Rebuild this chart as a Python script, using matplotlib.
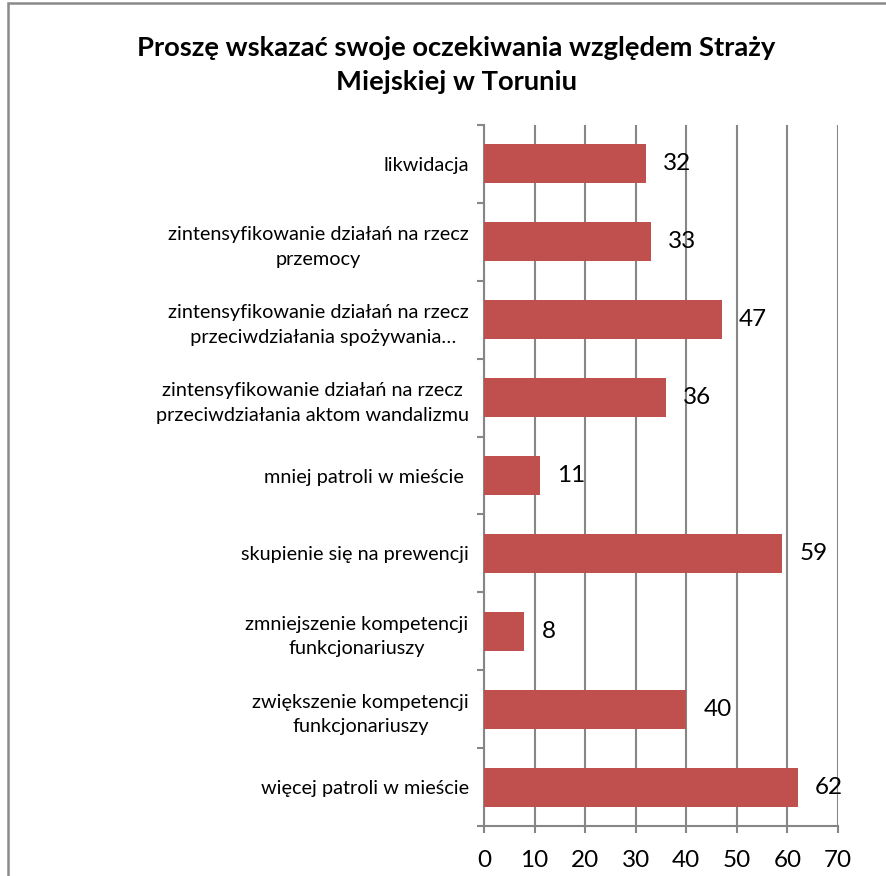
import matplotlib
matplotlib.use("Agg")
import matplotlib.pyplot as plt
from matplotlib.patches import Rectangle
import numpy as np

categories = [
    "likwidacja",
    "zintensyfikowanie działań na rzecz\nprzemocy",
    "zintensyfikowanie działań na rzecz\n  przeciwdziałania spożywania…",
    "zintensyfikowanie działań na rzecz\nprzeciwdziałania aktom wandalizmu",
    "mniej patroli w mieście ",
    "skupienie się na prewencji",
    "zmniejszenie kompetencji\nfunkcjonariuszy",
    "zwiększenie kompetencji\nfunkcjonariuszy",
    "więcej patroli w mieście",
]
values = [32, 33, 47, 36, 11, 59, 8, 40, 62]
xticks = [0, 10, 20, 30, 40, 50, 60, 70]
title = "Proszę wskazać swoje oczekiwania względem Straży\nMiejskiej w Toruniu"

plt.rcParams['font.family'] = ['Lato', 'DejaVu Sans']

fig = plt.figure(figsize=(8.86, 8.76), dpi=100)
fig.patches.append(Rectangle((8/886, -0.1), 1.2, 1.1 - 3/876, transform=fig.transFigure,
                             fill=False, edgecolor='#8a8a8a', linewidth=1.8))
ax = fig.add_axes([484/886, 1 - 826/876, 354/886, 701/876])

n = len(categories)
y = np.arange(n)
ax.barh(y, values, height=0.5, color='#C0504D', zorder=3)
ax.set_ylim(n - 0.5, -0.5)
ax.set_xlim(0, 70)
ax.set_xticks(xticks)
ax.set_xticklabels([str(t) for t in xticks], fontsize=17.5)
ax.set_yticks(y)
ax.set_yticklabels(categories, fontsize=14.3, multialignment='center', linespacing=1.55)
ax.set_yticks(np.arange(n + 1) - 0.5, minor=True)
ax.tick_params(axis='y', which='major', length=0, pad=11)
ax.tick_params(axis='y', which='minor', length=5, width=1.5, color='#868686', direction='out')
ax.tick_params(axis='x', length=5, width=1.5, color='#868686', direction='out', pad=12)
ax.grid(axis='x', color='#868686', linewidth=1.5, zorder=0)
for s in ['top', 'right']:
    ax.spines[s].set_visible(False)
for s in ['left', 'bottom']:
    ax.spines[s].set_color('#868686')
    ax.spines[s].set_linewidth(1.5)

for yi, v in zip(y, values):
    ax.annotate(str(v), (v, yi), xytext=(17, 0), textcoords='offset pixels',
                ha='left', va='center', fontsize=17.5, zorder=4)

fig.text(456/886, 1 - 65/876, title, ha='center', va='center', fontsize=19.7,
         fontweight='bold', linespacing=1.45)

fig.savefig("out.png", dpi=100)
